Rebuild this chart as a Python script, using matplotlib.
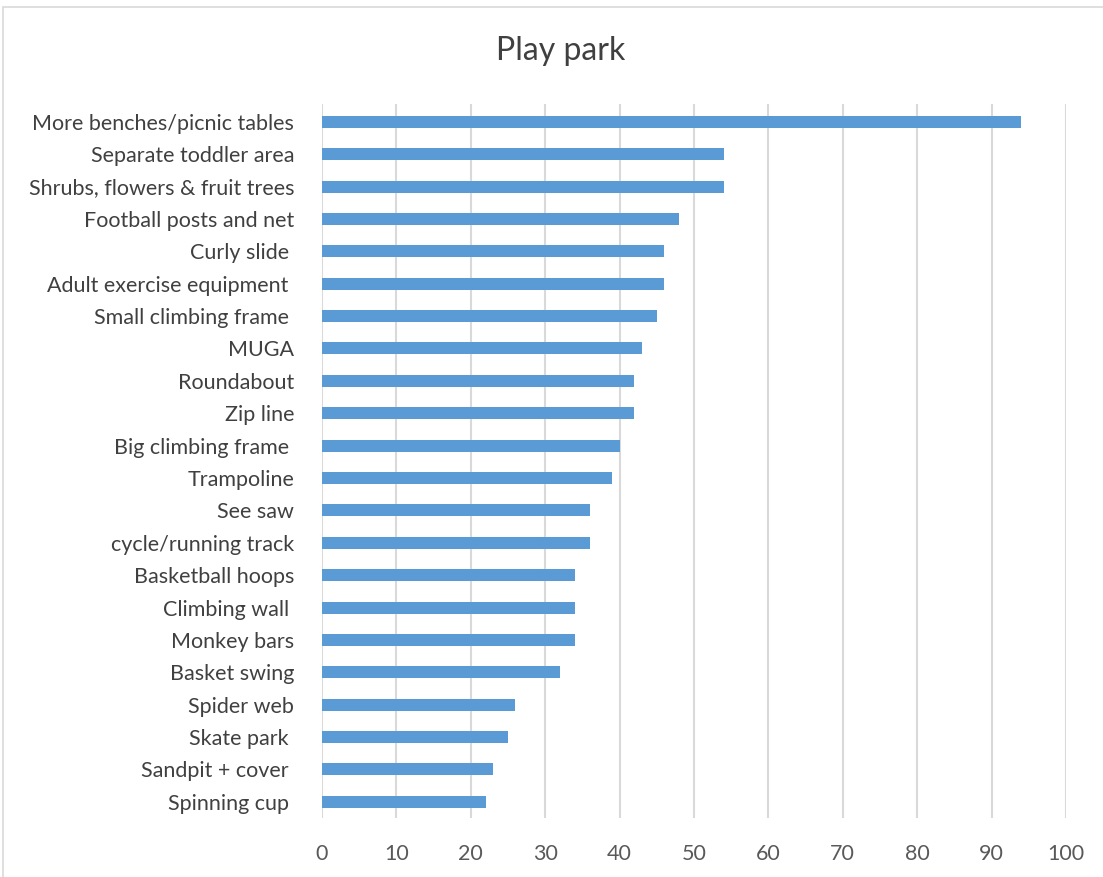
import matplotlib.pyplot as plt
from matplotlib.patches import Rectangle

# Survey data: votes per play park feature (top to bottom as shown)
features = ['More benches/picnic tables', 'Separate toddler area', 'Shrubs, flowers & fruit trees',
            'Football posts and net', 'Curly slide ', 'Adult exercise equipment ',
            'Small climbing frame ', 'MUGA', 'Roundabout', 'Zip line', 'Big climbing frame ',
            'Trampoline', 'See saw', 'cycle/running track', 'Basketball hoops', 'Climbing wall ',
            'Monkey bars', 'Basket swing', 'Spider web', 'Skate park ', 'Sandpit + cover ',
            'Spinning cup ']
votes = [94, 54, 54, 48, 46, 46, 45, 43, 42, 42, 40, 39, 36, 36, 34, 34, 34, 32, 26, 25, 23, 22]
x_ticks = list(range(0, 101, 10))

plt.rcParams['font.family'] = ['Lato', 'DejaVu Sans']

fig = plt.figure(figsize=(11.03, 8.77), dpi=100)
ax = fig.add_axes([0.2919, 0.0673, 0.6745, 0.8141])

# chart area border
fig.patches.append(Rectangle((0.003, -0.01), 1.2, 1.002, transform=fig.transFigure,
                             fill=False, edgecolor='#d9d9d9', linewidth=1.2))

pos = list(range(len(features)))
ax.barh(pos, votes, height=0.37, color='#5b9bd5', zorder=3)

ax.set_ylim(len(features) - 0.5, -0.55)
ax.set_xlim(0, 100)
ax.set_yticks(pos)
ax.set_yticklabels(features, fontsize=15.5, color='#404040')
ax.set_xticks(x_ticks)
ax.set_xticklabels([str(t) for t in x_ticks], fontsize=15.5, color='#595959')
ax.tick_params(axis='y', length=0, pad=20)
ax.tick_params(axis='x', length=0, pad=19)

ax.grid(axis='x', color='#d9d9d9', linewidth=1.5, zorder=0)
for side in ax.spines.values():
    side.set_visible(False)

fig.text(0.5085, 0.942, 'Play park', ha='center', va='center', fontsize=23, color='#404040')

plt.savefig('out.png', dpi=100)
